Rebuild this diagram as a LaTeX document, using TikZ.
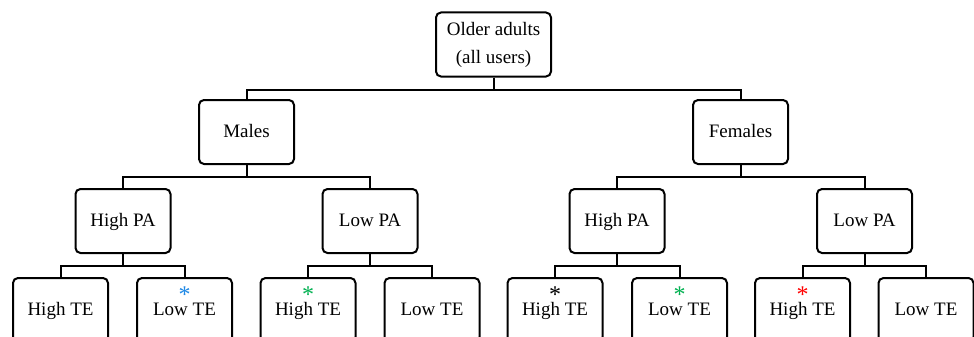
\documentclass[tikz,border=0pt]{standalone}
\usepackage{fontspec}
\setmainfont{Liberation Serif}
\usepackage{tikz}
\usetikzlibrary{shapes,arrows,positioning}
\definecolor{astblue}{RGB}{30,136,229}
\definecolor{astgreen}{RGB}{0,176,80}
\definecolor{astred}{RGB}{255,0,0}

\begin{document}
\begin{tikzpicture}[x=1pt, y=-1pt, line width=2pt,
    box/.style={draw, rectangle, rounded corners=5pt, minimum width=95pt, minimum height=64pt,
      align=center, font=\fontsize{19}{28}\selectfont},
    onebox/.style={box, text height=14pt, text depth=3pt},
    ast/.style={anchor=base, inner sep=0pt, font=\fontsize{24}{24}\selectfont}]
  \useasboundingbox (0,0) rectangle (974,337);
  \clip (0,0) rectangle (974,337);
            % levels of the tree
            \node [box, minimum width=115pt] (root) at (493.5,44.5) {Older adults\\(all users)};
            \node [onebox] (males) at (246.5,132) {Males};
            \node [onebox] (females) at (740.5,132) {Females};
            \node [onebox] (mhpa) at (123,221) {High PA};
            \node [onebox] (mlpa) at (370,221) {Low PA};
            \node [onebox] (fhpa) at (617,221) {High PA};
            \node [onebox] (flpa) at (864.5,221) {Low PA};
            \node [onebox] (mhhte) at (60.5,310) {High TE};
            \node [onebox] (mhlte) at (184.5,310) {Low TE};
            \node [onebox] (mlhte) at (308,310) {High TE};
            \node [onebox] (mllte) at (432,310) {Low TE};
            \node [onebox] (fhhte) at (555,310) {High TE};
            \node [onebox] (fhlte) at (679.5,310) {Low TE};
            \node [onebox] (flhte) at (802.5,310) {High TE};
            \node [onebox] (fllte) at (926,310) {Low TE};
            % marks
            \node [ast, text=astblue] (ast1) at (184.5,302) {*};
            \node [ast, text=astgreen] (ast2) at (308,302) {*};
            \node [ast, text=black] (ast3) at (555,302) {*};
            \node [ast, text=astgreen] (ast4) at (679.5,302) {*};
            \node [ast, text=astred] (ast5) at (802.5,302) {*};
            % connectors
            \foreach \p/\c in {root/males, root/females, males/mhpa, males/mlpa, females/fhpa, females/flpa,
                mhpa/mhhte, mhpa/mhlte, mlpa/mlhte, mlpa/mllte, fhpa/fhhte, fhpa/fhlte, flpa/flhte, flpa/fllte}
              \draw (\p.south) -- ++(0,12) -| (\c.north);
        \end{tikzpicture}
\end{document}
